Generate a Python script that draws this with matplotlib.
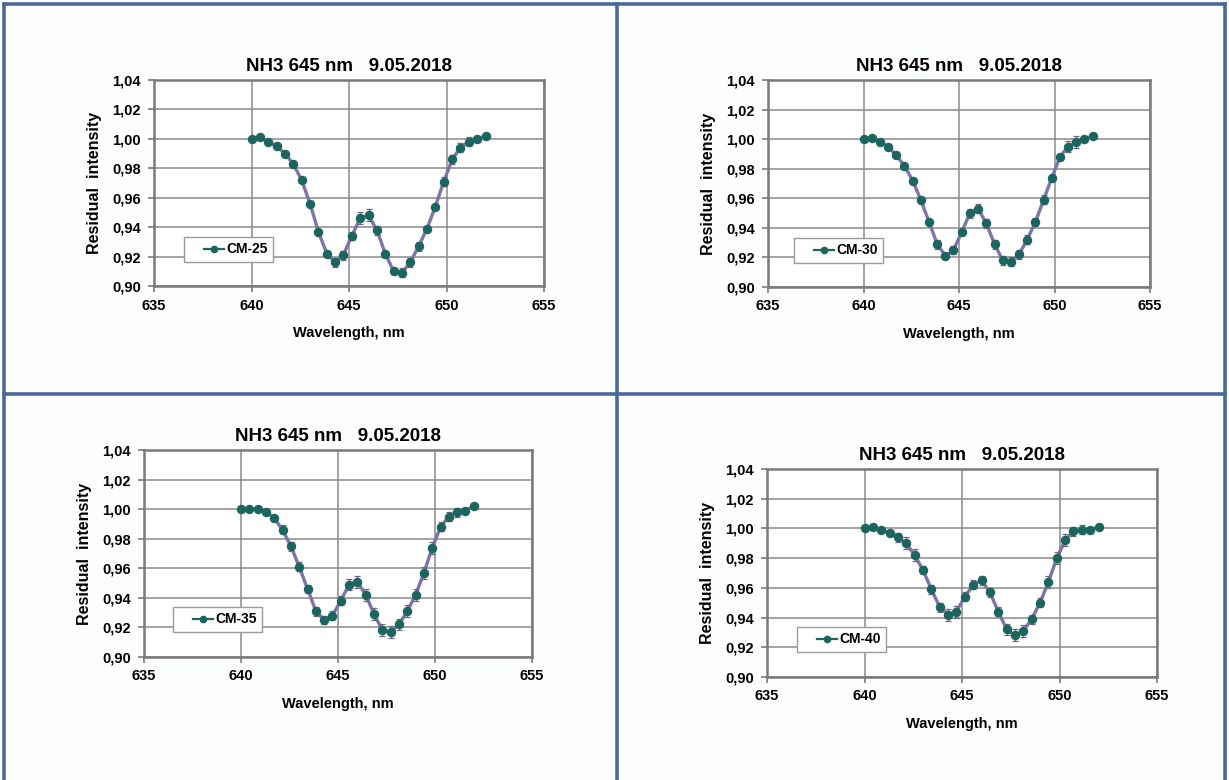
import matplotlib
matplotlib.use("Agg")
import matplotlib.pyplot as plt
from matplotlib.lines import Line2D
from matplotlib.legend_handler import HandlerLine2D

plt.rcParams['font.family'] = ['Liberation Sans', 'DejaVu Sans']
plt.rcParams['font.weight'] = 'bold'

# wavelength grid (nm), same for all four spectra
wl = [640.00, 640.43, 640.86, 641.29, 641.71, 642.14, 642.57, 643.00, 643.43, 643.86,
      644.29, 644.71, 645.14, 645.57, 646.00, 646.43, 646.86, 647.29, 647.71, 648.14,
      648.57, 649.00, 649.43, 649.86, 650.29, 650.71, 651.14, 651.57, 652.00]

cm25 = [1.000, 1.001, 0.998, 0.995, 0.990, 0.983, 0.972, 0.956, 0.937, 0.922,
        0.916, 0.921, 0.934, 0.946, 0.948, 0.938, 0.922, 0.910, 0.909, 0.916,
        0.927, 0.939, 0.954, 0.971, 0.986, 0.994, 0.998, 1.000, 1.002]
cm25_err = [0.000, 0.001, 0.001, 0.001, 0.001, 0.002, 0.002, 0.002, 0.002, 0.002,
            0.003, 0.003, 0.003, 0.004, 0.004, 0.003, 0.002, 0.002, 0.003, 0.003,
            0.003, 0.002, 0.002, 0.003, 0.003, 0.003, 0.003, 0.001, 0.001]

cm30 = [1.000, 1.001, 0.998, 0.995, 0.989, 0.982, 0.972, 0.959, 0.944, 0.929,
        0.921, 0.925, 0.937, 0.950, 0.953, 0.943, 0.929, 0.918, 0.917, 0.922,
        0.932, 0.944, 0.959, 0.974, 0.988, 0.995, 0.998, 1.000, 1.002]
cm30_err = [0.000, 0.001, 0.001, 0.001, 0.002, 0.002, 0.002, 0.002, 0.002, 0.003,
            0.002, 0.003, 0.002, 0.003, 0.003, 0.003, 0.003, 0.003, 0.003, 0.003,
            0.003, 0.003, 0.003, 0.002, 0.002, 0.004, 0.004, 0.002, 0.001]

cm35 = [1.000, 1.000, 1.000, 0.998, 0.994, 0.986, 0.975, 0.961, 0.946, 0.931,
        0.925, 0.928, 0.938, 0.949, 0.951, 0.942, 0.929, 0.918, 0.917, 0.922,
        0.931, 0.942, 0.957, 0.974, 0.988, 0.995, 0.998, 0.999, 1.002]
cm35_err = [0.000, 0.000, 0.000, 0.001, 0.002, 0.003, 0.003, 0.003, 0.003, 0.003,
            0.003, 0.003, 0.003, 0.004, 0.004, 0.004, 0.004, 0.004, 0.004, 0.004,
            0.004, 0.004, 0.004, 0.004, 0.003, 0.003, 0.003, 0.002, 0.001]

cm40 = [1.000, 1.001, 0.999, 0.997, 0.994, 0.990, 0.982, 0.972, 0.959, 0.947,
        0.942, 0.944, 0.954, 0.962, 0.965, 0.957, 0.944, 0.932, 0.928, 0.931,
        0.939, 0.950, 0.964, 0.980, 0.992, 0.998, 0.999, 0.999, 1.001]
cm40_err = [0.000, 0.001, 0.001, 0.002, 0.003, 0.004, 0.004, 0.003, 0.003, 0.003,
            0.004, 0.004, 0.003, 0.003, 0.003, 0.003, 0.003, 0.004, 0.004, 0.004,
            0.003, 0.003, 0.004, 0.004, 0.004, 0.003, 0.003, 0.002, 0.001]

series = [("CM-25", cm25, cm25_err), ("CM-30", cm30, cm30_err),
          ("CM-35", cm35, cm35_err), ("CM-40", cm40, cm40_err)]

title = "NH3 645 nm   9.05.2018"
xticks = [635, 640, 645, 650, 655]
yticks = [0.90, 0.92, 0.94, 0.96, 0.98, 1.00, 1.02, 1.04]
ytick_labels = ["0,90", "0,92", "0,94", "0,96", "0,98", "1,00", "1,02", "1,04"]

W, H = 1229, 780
# axes boxes in pixels: left, top, right, bottom ; legend box left/bottom in pixels
boxes = [(154, 80, 544, 286, 184, 262),
         (768, 80, 1150, 287, 794, 263),
         (144, 450, 532, 657, 173, 632),
         (767, 469, 1157, 677, 797, 652)]

line_col = '#7c74aa'
mark_col = '#1c655f'
err_col = '#6f6580'
border_col = '#4a6898'


class ShortLine(HandlerLine2D):
    # legend line drawn only on the right part of the handle box
    def create_artists(self, legend, orig_handle, xdescent, ydescent,
                       width, height, fontsize, trans):
        return super().create_artists(legend, orig_handle, xdescent - 0.42 * width,
                                      ydescent, 0.58 * width, height, fontsize, trans)


fig = plt.figure(figsize=(W / 100, H / 100), dpi=100)
fig.patch.set_facecolor('#fdfeff')

for (name, vals, err), (l, t, r, b, lx, ly) in zip(series, boxes):
    ax = fig.add_axes([l / W, 1 - b / H, (r - l) / W, (b - t) / H])
    ax.set_facecolor('white')
    ax.plot(wl, vals, color=line_col, lw=2.4, zorder=2)
    ax.errorbar(wl, vals, yerr=err, fmt='none', ecolor=err_col, elinewidth=0.9,
                capsize=2, capthick=0.9, zorder=3)
    ax.plot(wl, vals, 'o', color=mark_col, ms=5.8, zorder=4)
    ax.set_xlim(635, 655)
    ax.set_ylim(0.90, 1.04)
    ax.set_xticks(xticks)
    ax.set_yticks(yticks)
    ax.set_yticklabels(ytick_labels)
    ax.grid(True, color='#8a8a8a', lw=1.1)
    ax.set_axisbelow(True)
    for s in ax.spines.values():
        s.set_color('#7a7a7a')
        s.set_linewidth(1.8)
    ax.tick_params(direction='out', length=4, width=1.2, color='#7a7a7a',
                   labelsize=10.5)
    ax.tick_params(axis='x', pad=5)
    ax.tick_params(axis='y', pad=5.5)
    for lab in ax.get_xticklabels() + ax.get_yticklabels():
        lab.set_fontweight('bold')
    ax.set_title(title, fontsize=13.5, fontweight='bold', pad=6.5)
    ax.set_xlabel("Wavelength, nm", fontsize=10.5, fontweight='bold', labelpad=10)
    ax.set_ylabel("Residual  intensity", fontsize=11.5, fontweight='bold', labelpad=7)
    h = Line2D([0], [0], color=mark_col, lw=1.6, marker='o', ms=4.5)
    leg = ax.legend([h], [name], loc='lower left',
                    bbox_to_anchor=((lx - l) / (r - l), (b - ly) / (b - t)),
                    borderaxespad=0, fancybox=False, framealpha=1,
                    edgecolor='#9a9a9a', handlelength=2.5, handletextpad=0.15,
                    borderpad=0.4, handler_map={Line2D: ShortLine()},
                    prop={'weight': 'bold', 'size': 10})
    leg.get_frame().set_linewidth(1.0)


# panel frame lines
def pix_line(x0, y0, x1, y1):
    fig.add_artist(Line2D([x0 / W, x1 / W], [1 - y0 / H, 1 - y1 / H],
                          color=border_col, lw=2.6, transform=fig.transFigure))


pix_line(4, 4, 1225, 4)
pix_line(4, 4, 4, 780)
pix_line(1225, 4, 1225, 780)
pix_line(617, 4, 617, 780)
pix_line(4, 394, 1225, 394)

fig.savefig("out.png", dpi=100, facecolor=fig.get_facecolor())
